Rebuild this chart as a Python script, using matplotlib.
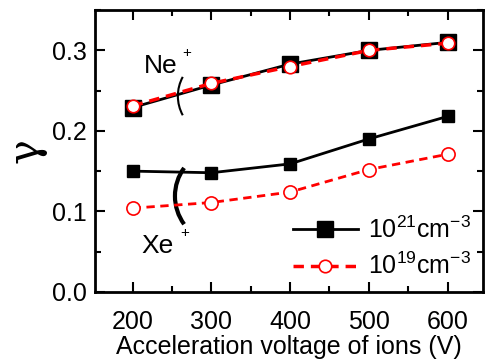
import matplotlib.pyplot as plt
from matplotlib.patches import Arc
from matplotlib.ticker import MultipleLocator

plt.rcParams['font.family'] = ['Liberation Sans', 'DejaVu Sans']
plt.rcParams['mathtext.fontset'] = 'custom'
plt.rcParams['mathtext.rm'] = 'Liberation Sans'

voltage = [200, 300, 400, 500, 600]
ne_21 = [0.229, 0.257, 0.283, 0.300, 0.310]
ne_19 = [0.231, 0.259, 0.280, 0.300, 0.309]
xe_21 = [0.150, 0.148, 0.159, 0.190, 0.218]
xe_19 = [0.104, 0.111, 0.124, 0.152, 0.171]

fig = plt.figure(figsize=(4.86, 3.63), dpi=100)
ax = fig.add_axes([0.195, 0.196, 0.799, 0.776])

# Ne+ (big squares under the circles)
ax.plot(voltage, ne_21, color='black', lw=2, marker='s', ms=11.5,
        mfc='black', mec='black', label=r'10$^{21}$cm$^{-3}$')
ax.plot(voltage, ne_19, color='red', lw=2.5, ls=(0, (3, 2)), marker='o', ms=9,
        mfc='white', mec='red', mew=1.2, label=r'10$^{19}$cm$^{-3}$')

# Xe+
ax.plot(voltage, xe_21, color='black', lw=2, marker='s', ms=8.5)
ax.plot(voltage, xe_19, color='red', lw=2, ls=(0, (3, 2)), marker='o', ms=9.5,
        mfc='white', mec='red', mew=1.2)

ax.set_xlim(152, 645)
ax.set_ylim(0, 0.35)
ax.xaxis.set_major_locator(MultipleLocator(100))
ax.xaxis.set_minor_locator(MultipleLocator(50))
ax.yaxis.set_major_locator(MultipleLocator(0.1))
ax.yaxis.set_minor_locator(MultipleLocator(0.05))
ax.tick_params(which='both', direction='in', top=True, right=True,
               labelsize=18, width=1.5)
ax.tick_params(axis='x', pad=13)
ax.tick_params(axis='y', pad=6)
ax.tick_params(which='major', length=7)
ax.tick_params(which='minor', length=4)
for s in ax.spines.values():
    s.set_linewidth(2)

ax.set_xlabel('Acceleration voltage of ions (V)', fontsize=18, labelpad=1)
ax.set_ylabel('γ', fontsize=30, labelpad=4, family='DejaVu Serif')

ax.text(0.126, 0.777, 'Ne', transform=ax.transAxes, fontsize=19)
ax.text(0.225, 0.835, '+', transform=ax.transAxes, fontsize=11)
ax.text(0.121, 0.138, 'Xe', transform=ax.transAxes, fontsize=19)
ax.text(0.220, 0.196, '+', transform=ax.transAxes, fontsize=11)
ax.add_patch(Arc((0.317, 0.695), 0.206, 0.284, theta1=143, theta2=217,
                 transform=ax.transAxes, lw=1.5, color='black'))
ax.add_patch(Arc((0.330, 0.340), 0.247, 0.340, theta1=135, theta2=225,
                 transform=ax.transAxes, lw=3, color='black'))

ax.legend(loc='lower right', frameon=False, fontsize=18, handlelength=2.6,
          handletextpad=0.4, labelspacing=0.4, borderaxespad=0.1)

fig.savefig('out.png', dpi=100)
